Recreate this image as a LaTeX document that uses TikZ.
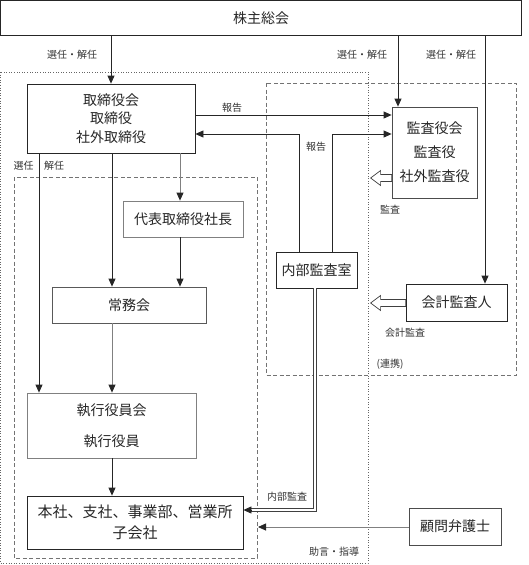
\documentclass[tikz,border=0pt]{standalone}
\usepackage{fontspec}
\setmainfont{Noto Sans CJK JP}
\usetikzlibrary{arrows.meta,calc}
\begin{document}
\begin{tikzpicture}[x=1pt,y=-1pt]
\tikzset{
  bx/.style={draw=black!85, line width=0.8pt, inner sep=0pt, align=center, text=black!85, font=\fontsize{14}{18.5}\selectfont},
  gbx/.style={bx, draw=black!50},
  lbl/.style={font=\fontsize{10}{12}\selectfont, text=black!80, inner sep=0pt},
  arr/.style={draw=black!85, line width=0.8pt, -{Triangle[length=8pt,width=7pt]}},
  garr/.style={draw=black!50, line width=0.8pt, -{Triangle[length=8pt,width=7pt,color=black!85]}},
  hollow/.style={draw=black!75, line width=0.7pt, fill=white},
  dbl/.style={draw=black!75, line width=0.6pt, double=white, double distance=2pt},
  dottedbox/.style={draw=black!60, line width=0.6pt, dotted},
  dashbox/.style={draw=black!55, line width=0.8pt, dash pattern=on 4pt off 2.5pt},
}
\useasboundingbox (0,0) rectangle (529,565);

% frames
\draw[dottedbox] (0.5,72) rectangle (368,563);
\draw[dashbox] (266,83) rectangle (516,375);
\draw[dashbox] (14,177) rectangle (257,558);

% boxes
\node[bx, minimum width=521pt, minimum height=35pt] (sh) at (261,18) {株主総会};
\node[bx, minimum width=168pt, minimum height=69pt] (tori) at (111,118.5) {取締役会\\取締役\\社外取締役};
\node[gbx, minimum width=120pt, minimum height=36pt] (daihyo) at (183,219) {代表取締役社長};
\node[bx, draw=black!65, minimum width=154pt, minimum height=36pt] (jomu) at (129,305) {常務会};
\node[gbx, minimum width=169pt, minimum height=65pt, font=\fontsize{14}{31}\selectfont] (shikko) at (111.5,425.5) {執行役員会\\執行役員};
\node[bx, minimum width=216pt, minimum height=53pt, font=\fontsize{15}{21}\selectfont] (honsha) at (135,522.5) {本社、支社、事業部、営業所\\子会社};
\node[bx, minimum width=81pt, minimum height=36pt] (naibu) at (316.5,270) {内部監査室};
\node[bx, draw=black!70, minimum width=85pt, minimum height=91pt, font=\fontsize{14}{24}\selectfont] (kansa) at (434.5,152.5) {監査役会\\監査役\\社外監査役};
\node[bx, minimum width=101pt, minimum height=37pt] (kaikei) at (456.5,302.5) {会計監査人};
\node[bx, draw=black!70, minimum width=92pt, minimum height=37pt] (komon) at (455,526.5) {顧問弁護士};

% helper coordinates
\coordinate (xa) at (398,0);
\coordinate (xb) at (485,0);
\coordinate (xl) at (39,0);
\coordinate (xm) at (112,0);
\coordinate (xr) at (180,0);
\coordinate (xn1) at (299,0);
\coordinate (xn2) at (332,0);
\coordinate (xd) at (315,0);
\coordinate (ya) at (0,115);
\coordinate (yb) at (0,134);
\coordinate (yd) at (0,510);
\coordinate (yk) at (0,527);
\coordinate (yh1) at (0,178);
\coordinate (yh2) at (0,303);
\coordinate (kend) at (258,527);
\coordinate (dl) at (251,510);

% connectors
\draw[arr] (sh.south -| tori.north) -- (tori.north);
\draw[arr] (sh.south -| xa) -- (kansa.north -| xa);
\draw[arr] (sh.south -| xb) -- (kaikei.north -| xb);
\draw[arr] (tori.south -| xl) -- (shikko.north -| xl);
\draw[arr] (tori.south -| xm) -- (jomu.north -| xm);
\draw[garr] (tori.south -| xr) -- (daihyo.north -| xr);
\draw[arr] (daihyo.south -| xr) -- (jomu.north -| xr);
\draw[garr] (jomu.south -| xm) -- (shikko.north -| xm);
\draw[arr] (shikko.south -| xm) -- (honsha.north -| xm);
\draw[arr] (tori.east |- ya) -- (kansa.west |- ya);
\draw[arr] (naibu.north -| xn1) |- (tori.east |- yb);
\draw[arr] (naibu.north -| xn2) |- (kansa.west |- yb);
\draw[dbl] (naibu.south -| xd) |- (dl);
\draw[arr] (dl) -- (honsha.east |- yd);
\draw[garr] (komon.west |- yk) -- (kend);

% hollow arrows
\coordinate (ha1) at (kansa.west |- yh1);
\draw[hollow] (ha1) -- ++(0,-3.5) -- ++(-11,0) -- ++(0,-4) -- ++(-10,7.5) -- ++(10,7.5) -- ++(0,-4) -- ++(11,0) -- cycle;
\coordinate (ha2) at (kaikei.west |- yh2);
\draw[hollow] (ha2) -- ++(0,-3.5) -- ++(-25,0) -- ++(0,-4) -- ++(-10,7.5) -- ++(10,7.5) -- ++(0,-4) -- ++(25,0) -- cycle;

% labels
\node[lbl] (l1) at (72,55) {選任・解任};
\node[lbl] (l2) at (362,55) {選任・解任};
\node[lbl] (l3) at (451,55) {選任・解任};
\node[lbl] (l4) at (23.5,166) {選任};
\node[lbl] (l5) at (54,166) {解任};
\node[lbl] (l6) at (232,108) {報告};
\node[lbl] (l7) at (316,147) {報告};
\node[lbl] (l8) at (390,210) {監査};
\node[lbl] (l9) at (405,333) {会計監査};
\node[lbl] (l10) at (390,364) {(連携)};
\node[lbl] (l11) at (287,497) {内部監査};
\node[lbl] (l12) at (334,552) {助言・指導};
\end{tikzpicture}
\end{document}
